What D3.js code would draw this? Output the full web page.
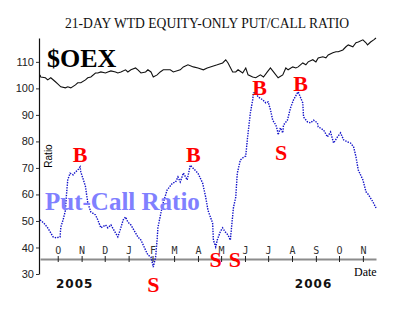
<!DOCTYPE html>
<html>
<head>
<meta charset="utf-8">
<script src="https://cdn.jsdelivr.net/npm/d3@7"></script>
<style>
  body { margin: 0; background: #fff; }
  svg { display: block; }
</style>
</head>
<body>
<svg id="chart"></svg>
<script>
// data, x = days after 2005-09-08
const pcDay = [0, 5, 10, 17, 21, 26, 27, 30, 33, 34, 36, 39, 43, 46, 49, 52, 53, 59, 62, 66, 72, 75, 79, 85, 88, 92, 98, 101, 104, 108, 111, 114, 118, 124, 127, 131, 137, 140, 144, 147, 150, 152, 153, 159, 165, 172, 176, 179, 182, 186, 191, 195, 199, 205, 211, 215, 218, 224, 225, 228, 230, 234, 237, 240, 244, 247, 251, 254, 256, 260, 264, 267, 269, 273, 276, 277, 280, 283, 289, 293, 296, 299, 302, 306, 308, 309, 312, 315, 316, 321, 322, 325, 329, 334, 335, 341, 342, 347, 351, 355, 360, 361, 368, 373, 377, 381, 386, 390, 394, 399, 403, 407, 410, 413, 419, 423, 426, 432, 436]
const pcValue = [50.4, 49.2, 47.4, 44, 43.6, 44, 47.7, 50.4, 54, 58.7, 65.5, 68, 67.4, 68.5, 69.2, 70.4, 68.5, 63, 56.8, 53.4, 52.3, 50.4, 47.4, 48.5, 47.4, 48.5, 45.5, 44, 46.6, 50.4, 51.5, 49.6, 48.5, 45.5, 44, 42.8, 39, 37.2, 36.4, 32.6, 36.4, 43, 47.5, 56, 61.7, 64.3, 64.7, 66.6, 64.7, 68.1, 65.5, 71, 69.8, 68, 64.3, 59, 54, 49.2, 42.8, 40.2, 42.8, 46, 47.4, 46, 44.7, 42.8, 55, 59, 68, 73, 74, 74.5, 80.6, 90.8, 95.7, 98.3, 98.3, 96.8, 95.7, 94.5, 94.9, 92, 88, 86.2, 84.3, 82.5, 85.1, 83.2, 86.2, 88, 89.1, 92.6, 95.7, 98.3, 98.7, 94.5, 89.2, 87.4, 87, 88, 87, 85.5, 84.3, 81.7, 83.6, 79.4, 81.7, 83.2, 80.6, 79.8, 79.4, 77.9, 74.2, 69.2, 65.5, 61, 60, 57.2, 54.9]

const oexDay = [0, 1, 7, 10, 14, 20, 23, 27, 33, 36, 40, 46, 49, 53, 59, 62, 66, 72, 75, 79, 85, 88, 92, 98, 101, 105, 111, 114, 118, 124, 127, 131, 137, 140, 144, 147, 152, 156, 160, 169, 173, 182, 186, 192, 199, 205, 212, 217, 221, 230, 237, 241, 244, 250, 254, 257, 263, 267, 270, 276, 280, 286, 290, 295, 299, 303, 309, 315, 319, 322, 328, 332, 335, 341, 345, 348, 354, 358, 361, 367, 371, 374, 380, 384, 387, 393, 397, 400, 406, 410, 413, 419, 423, 425, 429, 433, 436]
const oexValue = [105.1, 104.3, 104, 103.2, 104, 102.5, 101.7, 100.6, 100.2, 100.6, 100.2, 101.3, 102.1, 102.1, 103.2, 104, 104.3, 105.8, 105.8, 106.2, 105.8, 106.2, 106.6, 106.2, 105.8, 106.2, 107, 106.2, 107, 107.7, 107, 105.8, 106.2, 107, 106.2, 104.3, 105.1, 106.2, 107, 107, 106.2, 107, 108.1, 108.9, 108.1, 107.7, 107, 107.7, 108.1, 108.9, 109.6, 110.8, 109.6, 106.2, 106.2, 107, 105.8, 107.7, 105.1, 104.3, 104, 105.1, 104.3, 106.2, 107.7, 106.2, 104, 105.1, 107.7, 107, 108.1, 107.7, 108.1, 109.6, 108.9, 110, 110.8, 110, 111.5, 111.9, 111.5, 112.6, 113.4, 113.8, 113.8, 114.5, 115.7, 116.4, 115.7, 117.2, 117.5, 118.3, 117.2, 116.4, 117.5, 118.3, 119]

// buy / sell marks (letter baseline)
const sigLabel = ['B', 'B', 'B', 'B', 'S', 'S', 'S', 'S']
const sigDay = [52, 199, 285, 338, 313, 147, 228, 253]
const sigValue = [72.3, 72.3, 97.5, 99, 73, 23.2, 32.6, 32.6]

const monthLetters = ['O', 'N', 'D', 'J', 'F', 'M', 'A', 'M', 'J', 'J', 'A', 'S', 'O', 'N']
const yTicks = [30, 40, 50, 60, 70, 80, 90, 100, 110]
const yearLabels = ['2005', '2006']
const yearDay = [45, 355]

const W = 414, H = 311
const start = new Date(2005, 8, 8)
const toDate = d => new Date(2005, 8, 8 + d)

const svg = d3.select('#chart').attr('width', W).attr('height', H)

const x = d3.scaleTime().domain([start, toDate(436)]).range([40, 376])
const y = d3.scaleLinear().domain([30, 119]).range([274, 38])

// title
svg.append('text')
    .attr('x', 207).attr('y', 28)
    .attr('text-anchor', 'middle')
    .style('font-family', '"Liberation Serif", serif')
    .style('font-size', '13.6px')
    .attr('fill', '#111')
    .text('21-DAY WTD EQUITY-ONLY PUT/CALL RATIO')

// y axis
const yAxis = d3.axisLeft(y).tickValues(yTicks).tickSize(3).tickPadding(2).tickSizeOuter(0)
const gy = svg.append('g').attr('transform', 'translate(39,0)').call(yAxis)
gy.select('.domain').attr('stroke', '#111').attr('stroke-width', 1.2)
gy.selectAll('.tick line').attr('stroke', '#333')
gy.selectAll('.tick text')
    .style('font-family', '"Liberation Sans", sans-serif')
    .style('font-size', '11px')
    .attr('fill', '#222')

// x axis (gray band with month letters above)
const months = d3.timeMonth.range(new Date(2005, 9, 1), new Date(2006, 10, 2))
const xAxis = d3.axisTop(x).tickValues(months).tickSize(3).tickPadding(2)
    .tickFormat((d, i) => monthLetters[i]).tickSizeOuter(0)
const gx = svg.append('g').attr('transform', 'translate(0,259)').call(xAxis)
gx.select('.domain').attr('stroke', '#8c8c8c').attr('stroke-width', 2.2)
gx.selectAll('.tick line').attr('y1', 3).attr('y2', -3).attr('stroke', '#222')
gx.selectAll('.tick text')
    .style('font-family', '"DejaVu Sans Mono", monospace')
    .style('font-size', '10px')
    .attr('fill', '#333')

// OEX line
const oexLine = d3.line().x((d, i) => x(toDate(d))).y((d, i) => y(oexValue[i]))
svg.append('path')
    .attr('d', oexLine(oexDay))
    .attr('fill', 'none')
    .attr('stroke', '#111')
    .attr('stroke-width', 1.1)

// put/call line
const pcLine = d3.line().x(d => x(toDate(d))).y((d, i) => y(pcValue[i]))
svg.append('path')
    .attr('d', pcLine(pcDay))
    .attr('fill', 'none')
    .attr('stroke', '#1010c8')
    .attr('stroke-width', 1.4)
    .attr('stroke-dasharray', '1.4 1.2')

// labels
svg.append('text')
    .attr('x', 47).attr('y', 67)
    .style('font-family', '"Liberation Serif", serif')
    .style('font-weight', 'bold')
    .style('font-size', '26px')
    .text('$OEX')

svg.append('text')
    .attr('x', 45).attr('y', 210)
    .style('font-family', '"Liberation Serif", serif')
    .style('font-weight', 'bold')
    .style('font-size', '25px')
    .attr('fill', '#8080ff')
    .text('Put-Call Ratio')

svg.append('text')
    .attr('transform', 'translate(52,156) rotate(-90)')
    .attr('text-anchor', 'middle')
    .style('font-family', '"Liberation Sans", sans-serif')
    .style('font-size', '10px')
    .text('Ratio')

svg.append('text')
    .attr('x', 354).attr('y', 276)
    .style('font-family', '"Liberation Serif", serif')
    .style('font-size', '12px')
    .text('Date')

svg.selectAll('.year')
    .data(yearLabels)
    .join('text')
    .attr('class', 'year')
    .attr('x', (d, i) => x(toDate(yearDay[i])))
    .attr('y', 288)
    .attr('text-anchor', 'middle')
    .style('font-family', '"DejaVu Sans", sans-serif')
    .style('font-weight', 'bold')
    .style('font-size', '12px')
    .style('letter-spacing', '1px')
    .attr('fill', '#111')
    .text(d => d)

// B / S signals
svg.selectAll('.sig')
    .data(sigLabel)
    .join('text')
    .attr('class', 'sig')
    .attr('x', (d, i) => x(toDate(sigDay[i])))
    .attr('y', (d, i) => y(sigValue[i]))
    .attr('text-anchor', 'middle')
    .style('font-family', '"Liberation Serif", serif')
    .style('font-weight', 'bold')
    .style('font-size', '22px')
    .attr('fill', '#ff0000')
    .text(d => d)
</script>
</body>
</html>
